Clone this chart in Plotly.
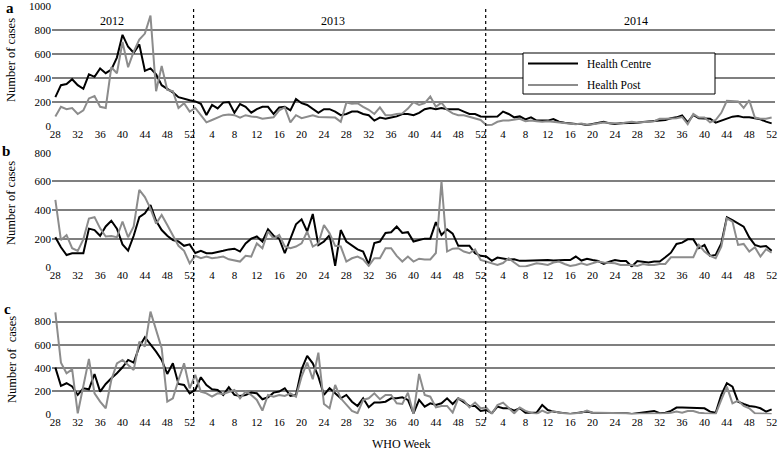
import plotly.graph_objects as go

# ---------------- categories ----------------
weeks_2012 = list(range(28, 53))
weeks_2013 = list(range(1, 53))
weeks_2014 = list(range(1, 53))
weeks = weeks_2012 + weeks_2013 + weeks_2014
years = ["2012", "2013", "2014"]
y_ticks_a = [0, 200, 400, 600, 800, 1000]
y_ticks_bc = [0, 200, 400, 600, 800]

# ---------------- panel a ----------------
hc_a_2012 = [240, 340, 350, 390, 340, 310, 430, 410, 480, 440, 470, 570, 760, 660, 610, 680, 460, 480, 430, 340,
             310, 280, 240, 225, 215]
hc_a_2013 = [205, 185, 92, 175, 147, 195, 200, 111, 183, 160,
             111, 140, 160, 160, 100, 155, 160, 130, 225, 190,
             175, 140, 110, 140, 140, 120, 90, 100, 120, 120,
             100, 90, 45, 70, 60, 70, 80, 100, 100, 90,
             110, 140, 150, 140, 150, 140, 140, 140, 120, 100,
             100, 80]
hc_a_2014 = [78, 78, 80, 120, 100, 72, 80, 55, 72, 45,
             42, 45, 58, 36, 28, 22, 17, 17, 8, 17,
             28, 36, 22, 17, 22, 22, 28, 28, 33, 36,
             42, 45, 50, 64, 72, 88, 30, 92, 64, 62,
             60, 28, 45, 64, 78, 83, 72, 72, 64, 56,
             36, 22]
hp_a_2012 = [80, 160, 140, 150, 100, 130, 230, 250, 160, 150, 490, 440, 700, 490, 620, 720, 770, 920, 290, 500,
             300, 290, 150, 190, 120]
hp_a_2013 = [150, 90, 30, 50, 70, 90, 95, 90, 70, 90,
             80, 75, 60, 65, 72, 130, 155, 30, 90, 65,
             78, 90, 75, 75, 75, 70, 35, 195, 185, 190,
             160, 135, 100, 155, 90, 90, 100, 105, 145, 200,
             175, 190, 245, 160, 195, 135, 105, 90, 90, 78,
             65, 50]
hp_a_2014 = [8, 10, 35, 45, 45, 55, 60, 40, 45, 40,
             35, 40, 35, 30, 25, 20, 15, 20, 10, 15,
             20, 30, 25, 25, 20, 30, 35, 30, 30, 35,
             40, 60, 60, 60, 65, 75, 15, 100, 70, 70,
             30, 50, 110, 210, 205, 205, 150, 215, 70, 60,
             60, 70]

# ---------------- panel b ----------------
hc_b_2012 = [210, 140, 86, 98, 98, 98, 270, 260, 220, 285, 325, 270, 160, 116, 220, 350, 377, 435, 325, 260,
             220, 190, 180, 150, 160]
hc_b_2013 = [100, 115, 98, 98, 105, 115, 125, 130, 110, 167,
             200, 215, 180, 265, 220, 200, 98, 195, 300, 335,
             250, 372, 155, 180, 225, 10, 260, 180, 155, 125,
             110, 20, 170, 180, 240, 245, 285, 240, 245, 180,
             190, 200, 200, 315, 225, 265, 235, 150, 150, 150,
             98, 80]
hc_b_2014 = [75, 45, 68, 63, 55, 56, 45, 45, 47, 45,
             51, 51, 47, 51, 51, 51, 75, 47, 60, 51,
             44, 23, 40, 51, 44, 44, 5, 44, 40, 33,
             40, 40, 70, 102, 163, 172, 195, 195, 133, 156,
             79, 86, 167, 349, 330, 307, 284, 209, 156, 144,
             149, 116]
hp_b_2012 = [470, 190, 225, 133, 115, 195, 340, 350, 272, 215, 218, 210, 320, 210, 285, 540, 490, 410, 305, 365,
             295, 225, 150, 115, 28]
hp_b_2013 = [80, 63, 75, 63, 68, 75, 56, 50, 40, 80,
             75, 167, 133, 250, 200, 225, 145, 133, 145, 167,
             250, 145, 167, 295, 237, 150, 145, 40, 63, 75,
             56, 10, 63, 63, 133, 133, 80, 40, 75, 40,
             60, 55, 55, 100, 600, 110, 130, 133, 110, 98,
             125, 51]
hp_b_2014 = [40, 25, 16, 30, 63, 33, 5, 5, 16, 28,
             23, 16, 33, 40, 23, 9, 16, 28, 16, 28,
             40, 33, 33, 28, 16, 16, 16, 9, 23, 16,
             16, 23, 23, 70, 70, 70, 68, 70, 156, 110,
             79, 63, 144, 342, 319, 156, 163, 110, 140, 75,
             126, 102]

# ---------------- panel c ----------------
hc_c_2012 = [403, 245, 268, 240, 167, 225, 216, 348, 196, 262, 311, 354, 406, 469, 446, 584, 665, 604, 541, 469,
             348, 440, 262, 253, 181]
hc_c_2013 = [210, 320, 253, 216, 210, 167, 233, 167, 158, 167,
             187, 181, 130, 147, 187, 196, 225, 158, 167, 388,
             504, 440, 325, 167, 225, 181, 138, 167, 109, 72,
             138, 60, 101, 101, 109, 138, 138, 147, 124, 9,
             124, 66, 95, 80, 95, 138, 89, 138, 101, 72,
             72, 29]
hc_c_2014 = [37, 9, 66, 52, 52, 32, 52, 14, 14, 14,
             80, 37, 23, 14, 9, 3, 9, 14, 23, 14,
             14, 9, 14, 14, 9, 9, 3, 9, 14, 23,
             29, 9, 14, 29, 58, 58, 58, 58, 58, 52,
             23, 14, 167, 268, 239, 109, 89, 72, 66, 52,
             23, 43]
hp_c_2012 = [880, 446, 354, 388, 9, 240, 478, 181, 109, 52, 296, 440, 469, 426, 383, 627, 584, 886, 728, 570,
             109, 138, 296, 440, 224]
hp_c_2013 = [340, 196, 181, 152, 181, 175, 196, 210, 138, 196,
             167, 124, 32, 167, 152, 167, 158, 181, 152, 325,
             446, 302, 532, 89, 52, 253, 138, 80, 29, 9,
             124, 138, 181, 130, 167, 167, 95, 89, 187, 3,
             348, 167, 152, 60, 72, 72, 14, 138, 118, 60,
             101, 52]
hp_c_2014 = [58, 3, 80, 101, 52, 9, 58, 29, 14, 3,
             32, 9, 29, 14, 9, 3, 9, 14, 32, 14,
             14, 14, 14, 9, 14, 9, 3, 3, 3, 9,
             9, 3, 9, 14, 23, 14, 29, 29, 14, 9,
             3, 3, 124, 239, 95, 118, 72, 52, 9, 9,
             3, 3]

# ---------------- build figure ----------------
W, H = 779, 451
idx = list(range(len(weeks)))
tick_idx = idx[::4]
tick_txt = [str(weeks[i]) for i in tick_idx]

FONT = "Liberation Serif, Times New Roman, serif"
HC_COLOR = "#000000"
HP_COLOR = "#8c8c8c"
GRID = "#7f7f7f"

def py(px):
    return 1 - px / H

def pxx(px):
    return px / W

panels = [
    ("x", "y", hc_a_2012 + hc_a_2013 + hc_a_2014, hp_a_2012 + hp_a_2013 + hp_a_2014),
    ("x2", "y2", hc_b_2012 + hc_b_2013 + hc_b_2014, hp_b_2012 + hp_b_2013 + hp_b_2014),
    ("x3", "y3", hc_c_2012 + hc_c_2013 + hc_c_2014, hp_c_2012 + hp_c_2013 + hp_c_2014),
]

fig = go.Figure()
for xa, ya, hc, hp in panels:
    fig.add_trace(go.Scatter(x=idx, y=hc, mode="lines", name="Health Centre", xaxis=xa, yaxis=ya,
                             line=dict(color=HC_COLOR, width=2), showlegend=False, hoverinfo="skip"))
    fig.add_trace(go.Scatter(x=idx, y=hp, mode="lines", name="Health Post", xaxis=xa, yaxis=ya,
                             line=dict(color=HP_COLOR, width=2), showlegend=False, hoverinfo="skip"))

xdom = [pxx(52), pxx(775)]
xcommon = dict(domain=xdom, range=[-0.6, len(weeks) - 1 + 0.6], tickvals=tick_idx, ticktext=tick_txt,
               showgrid=False, zeroline=False, showline=False, ticks="", automargin=False,
               ticklabeloverflow="allow",
               tickfont=dict(family=FONT, size=11, color="black"))
ycommon = dict(showgrid=True, gridcolor=GRID, gridwidth=1.5, zeroline=False, showline=False, ticks="",
               automargin=False, ticklabeloverflow="allow",
               tickfont=dict(family=FONT, size=11, color="black"))

fig.update_layout(
    template="none",
    width=W, height=H, margin=dict(l=0, r=0, t=0, b=0, pad=0),
    paper_bgcolor="white", plot_bgcolor="white",
    xaxis=dict(anchor="y", **xcommon),
    xaxis2=dict(anchor="y2", **xcommon),
    xaxis3=dict(anchor="y3", **xcommon),
    yaxis=dict(anchor="x", domain=[py(126), py(6)], range=[0, 1000], tickvals=y_ticks_a, **ycommon),
    yaxis2=dict(anchor="x2", domain=[py(267.3), py(152.7)], range=[0, 800], tickvals=y_ticks_bc, **ycommon),
    yaxis3=dict(anchor="x3", domain=[py(414.3), py(310)], range=[0, 900], tickvals=y_ticks_bc, **ycommon),
)

# year separators (dashed)
n12 = len(weeks_2012)
n13 = len(weeks_2013)
for xv in [n12 - 0.3, n12 + n13 - 0.1]:
    fig.add_shape(type="line", xref="x", yref="paper", x0=xv, x1=xv, y0=py(420), y1=py(6),
                  line=dict(color="black", width=1.2, dash="dot"))

anns = []
# year labels
for (label, cx) in zip(years, [112, 333, 636]):
    anns.append(dict(text=label, x=pxx(cx), y=py(21.5), xref="paper", yref="paper", showarrow=False,
                     xanchor="center", yanchor="middle", font=dict(family=FONT, size=12, color="black")))
# y-axis titles
for cy, cx, txt in [(60, 11, "Number of cases"), (203, 11, "Number of cases"), (360, 12, "Number of  cases")]:
    anns.append(dict(text=txt, x=pxx(cx), y=py(cy), xref="paper", yref="paper", showarrow=False,
                     textangle=-90, xanchor="center", yanchor="middle",
                     font=dict(family=FONT, size=12.5, color="black")))
# panel letters
for letter, cx, cy in [("a", 10, 8), ("b", 6, 151), ("c", 7, 309)]:
    anns.append(dict(text="<b>%s</b>" % letter, x=pxx(cx), y=py(cy), xref="paper", yref="paper",
                     showarrow=False, xanchor="center", yanchor="middle",
                     font=dict(family=FONT, size=15, color="black")))
# x title
anns.append(dict(text="WHO Week", x=pxx(401), y=py(444), xref="paper", yref="paper", showarrow=False,
                 xanchor="center", yanchor="middle", font=dict(family=FONT, size=12, color="black")))

# legend (drawn box)
fig.add_shape(type="rect", xref="paper", yref="paper", x0=pxx(523), x1=pxx(715), y0=py(94), y1=py(53),
              line=dict(color="black", width=1), fillcolor="white")
for cy, col, name in [(63.5, HC_COLOR, "Health Centre"), (85, HP_COLOR, "Health Post")]:
    fig.add_shape(type="line", xref="paper", yref="paper", x0=pxx(528), x1=pxx(578), y0=py(cy), y1=py(cy),
                  line=dict(color=col, width=2))
    anns.append(dict(text=name, x=pxx(585), y=py(cy), xref="paper", yref="paper", showarrow=False,
                     xanchor="left", yanchor="middle", font=dict(family=FONT, size=11.5, color="black")))

fig.update_layout(annotations=anns)
fig.write_html("out.html", config={"displayModeBar": False},
               post_script="document.body.style.margin='0px';document.body.style.overflow='hidden';")
